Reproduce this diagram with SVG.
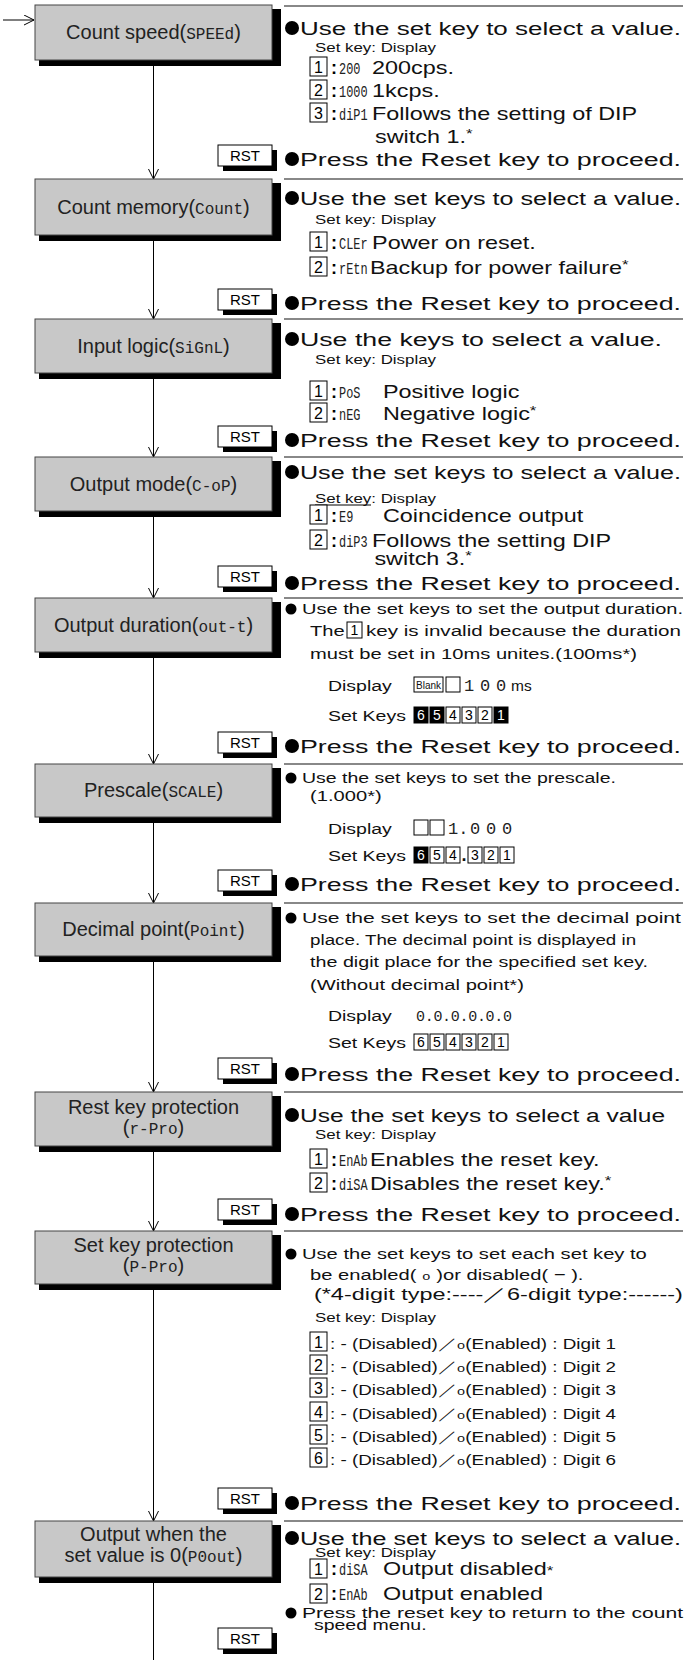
<svg xmlns="http://www.w3.org/2000/svg" width="685" height="1660" viewBox="0 0 685 1660">
<style>
.box{fill:#c8c8c8;stroke:#444;stroke-width:1}
.sh{fill:#000}
.lbl{font-family:'Liberation Sans',Arial,sans-serif;font-size:20px;text-anchor:middle;fill:#222}
.seg{font-family:'Liberation Mono','DejaVu Sans Mono',monospace;font-size:17px;fill:#222}
.sg{font-family:'Liberation Mono','DejaVu Sans Mono',monospace;font-size:16px}
.sep{stroke:#888;stroke-width:2}
.conn line{stroke:#000;stroke-width:1}
.rst{fill:#fff;stroke:#000;stroke-width:1}
.rt{font-family:'Liberation Sans',Arial,sans-serif;font-size:15px;text-anchor:middle}
.t{font-family:'Liberation Sans',Arial,sans-serif;fill:#111}
.f19{font-size:19px}.f18{font-size:18px}.f17{font-size:17px}.f155{font-size:15.5px}.f15{font-size:15px}.f145{font-size:14.5px}.f13{font-size:13px}
.key{fill:#fff;stroke:#000;stroke-width:1}
.kb{fill:#000;stroke:#000}
.kn{font-family:'Liberation Sans',Arial,sans-serif;font-size:16px;text-anchor:middle}
.ks{font-size:14px}
.w{fill:#fff}
.col{font-family:'Liberation Sans',Arial,sans-serif;font-size:18px;font-weight:bold}
.so{font-family:'Liberation Mono',monospace;font-size:11px}
</style>
<defs>
<marker id="ar" markerWidth="12" markerHeight="12" refX="10" refY="5" orient="auto" markerUnits="userSpaceOnUse"><path d="M0,0 L10,5 L0,10" fill="none" stroke="#000" stroke-width="1"/></marker>
</defs>

<g id="connectors" class="conn">
<line x1="3" y1="20" x2="34" y2="20" marker-end="url(#ar)"/>
<line x1="153.5" y1="60" x2="153.5" y2="179" marker-end="url(#ar)"/>
<line x1="153.5" y1="235" x2="153.5" y2="319" marker-end="url(#ar)"/>
<line x1="153.5" y1="373" x2="153.5" y2="457" marker-end="url(#ar)"/>
<line x1="153.5" y1="511" x2="153.5" y2="598" marker-end="url(#ar)"/>
<line x1="153.5" y1="652" x2="153.5" y2="764" marker-end="url(#ar)"/>
<line x1="153.5" y1="817" x2="153.5" y2="903" marker-end="url(#ar)"/>
<line x1="153.5" y1="956" x2="153.5" y2="1092" marker-end="url(#ar)"/>
<line x1="153.5" y1="1146" x2="153.5" y2="1231" marker-end="url(#ar)"/>
<line x1="153.5" y1="1284" x2="153.5" y2="1521" marker-end="url(#ar)"/>
<line x1="153.5" y1="1577" x2="153.5" y2="1660"/>
</g>

<g id="separators">
<line class="sep" x1="284" y1="6" x2="683" y2="6"/>
<line class="sep" x1="284" y1="179" x2="683" y2="179"/>
<line class="sep" x1="284" y1="319" x2="683" y2="319"/>
<line class="sep" x1="284" y1="457" x2="683" y2="457"/>
<line class="sep" x1="284" y1="598" x2="683" y2="598"/>
<line class="sep" x1="284" y1="764" x2="683" y2="764"/>
<line class="sep" x1="284" y1="903" x2="683" y2="903"/>
<line class="sep" x1="284" y1="1092" x2="683" y2="1092"/>
<line class="sep" x1="284" y1="1231" x2="683" y2="1231"/>
<line class="sep" x1="284" y1="1521" x2="683" y2="1521"/>
</g>

<!-- ===== Node 1 ===== -->
<g id="n1">
<rect class="sh" x="39" y="9" width="242" height="57"/>
<rect class="box" x="35" y="5" width="237" height="55"/>
<text class="lbl" x="153.5" y="39">Count speed(<tspan class="sg">SPEEd</tspan>)</text>
</g>
<g id="d1">
<circle cx="292" cy="28" r="7"/>
<rect class="key" x="310" y="57" width="17" height="19"/><text class="kn" x="318.5" y="73">1</text>
<rect class="key" x="310" y="80" width="17" height="19"/><text class="kn" x="318.5" y="96">2</text>
<rect class="key" x="310" y="103" width="17" height="19"/><text class="kn" x="318.5" y="119">3</text>
<text class="col" x="331" y="74">:</text><text class="seg" transform="translate(339 74) scale(0.7 1)">200</text>
<text class="col" x="331" y="97">:</text><text class="seg" transform="translate(339 97) scale(0.7 1)">1000</text>
<text class="col" x="331" y="120">:</text><text class="seg" transform="translate(339 120) scale(0.7 1)">diP1</text>
<g class="t" transform="scale(1.3 1)">
<text class="f19" x="230.77" y="35" textLength="293.1" lengthAdjust="spacingAndGlyphs">Use the set key to select a value.</text>
<text class="f13" x="242.3" y="52">Set key: Display</text>
<text class="f18" x="286.2" y="74">200cps.</text>
<text class="f18" x="286.2" y="97">1kcps.</text>
<text class="f18" x="286.2" y="120">Follows the setting of DIP</text>
<text class="f18" x="288.5" y="143">switch 1.<tspan class="f13" dy="-5">*</tspan></text>
</g>
</g>
<g id="r1">
<rect class="sh" x="223" y="150" width="54" height="21"/>
<rect class="rst" x="218" y="145" width="54" height="21"/>
<text class="rt" x="245" y="161">RST</text>
<circle cx="292" cy="159" r="7"/>
<text class="t f19" transform="scale(1.3 1)" x="230.77" y="166" textLength="293.1" lengthAdjust="spacingAndGlyphs">Press the Reset key to proceed.</text>
</g>

<!-- ===== Node 2 ===== -->
<g id="n2">
<rect class="sh" x="39" y="183" width="242" height="58"/>
<rect class="box" x="35" y="179" width="237" height="56"/>
<text class="lbl" x="153.5" y="214">Count memory(<tspan class="sg">Count</tspan>)</text>
</g>
<g id="d2">
<circle cx="292" cy="198" r="7"/>
<rect class="key" x="310" y="232" width="17" height="19"/><text class="kn" x="318.5" y="248">1</text>
<rect class="key" x="310" y="257" width="17" height="19"/><text class="kn" x="318.5" y="273">2</text>
<text class="col" x="331" y="249">:</text><text class="seg" transform="translate(339 249) scale(0.7 1)">CLEr</text>
<text class="col" x="331" y="274">:</text><text class="seg" transform="translate(339 274) scale(0.7 1)">rEtn</text>
<g class="t" transform="scale(1.3 1)">
<text class="f19" x="230.77" y="205" textLength="293.1" lengthAdjust="spacingAndGlyphs">Use the set keys to select a value.</text>
<text class="f13" x="242.3" y="224">Set key: Display</text>
<text class="f18" x="286.2" y="249">Power on reset.</text>
<text class="f18" x="284.6" y="274">Backup for power failure<tspan class="f13" dy="-5">*</tspan></text>
</g>
</g>
<g id="r2">
<rect class="sh" x="223" y="294" width="54" height="21"/>
<rect class="rst" x="218" y="289" width="54" height="21"/>
<text class="rt" x="245" y="305">RST</text>
<circle cx="292" cy="303" r="7"/>
<text class="t f19" transform="scale(1.3 1)" x="230.77" y="310" textLength="293.1" lengthAdjust="spacingAndGlyphs">Press the Reset key to proceed.</text>
</g>

<!-- ===== Node 3 ===== -->
<g id="n3">
<rect class="sh" x="39" y="323" width="242" height="56"/>
<rect class="box" x="35" y="319" width="237" height="54"/>
<text class="lbl" x="153.5" y="353">Input logic(<tspan class="sg">SiGnL</tspan>)</text>
</g>
<g id="d3">
<circle cx="292" cy="339" r="7"/>
<rect class="key" x="310" y="381" width="17" height="19"/><text class="kn" x="318.5" y="397">1</text>
<rect class="key" x="310" y="403" width="17" height="19"/><text class="kn" x="318.5" y="419">2</text>
<text class="col" x="331" y="398">:</text><text class="seg" transform="translate(339 398) scale(0.7 1)">PoS</text>
<text class="col" x="331" y="420">:</text><text class="seg" transform="translate(339 420) scale(0.7 1)">nEG</text>
<g class="t" transform="scale(1.3 1)">
<text class="f19" x="230.77" y="346" textLength="278.5" lengthAdjust="spacingAndGlyphs">Use the keys to select a value.</text>
<text class="f13" x="242.3" y="364">Set key: Display</text>
<text class="f18" x="294.6" y="398">Positive logic</text>
<text class="f18" x="294.6" y="420">Negative logic<tspan class="f13" dy="-5">*</tspan></text>
</g>
</g>
<g id="r3">
<rect class="sh" x="223" y="431" width="54" height="21"/>
<rect class="rst" x="218" y="426" width="54" height="21"/>
<text class="rt" x="245" y="442">RST</text>
<circle cx="292" cy="440" r="7"/>
<text class="t f19" transform="scale(1.3 1)" x="230.77" y="447" textLength="293.1" lengthAdjust="spacingAndGlyphs">Press the Reset key to proceed.</text>
</g>

<!-- ===== Node 4 ===== -->
<g id="n4">
<rect class="sh" x="39" y="461" width="242" height="56"/>
<rect class="box" x="35" y="457" width="237" height="54"/>
<text class="lbl" x="153.5" y="491">Output mode(<tspan class="sg">C-oP</tspan>)</text>
</g>
<g id="d4">
<circle cx="292" cy="472" r="7"/>
<line x1="315" y1="505" x2="371" y2="505" stroke="#000" stroke-width="1"/>
<rect class="key" x="310" y="505" width="17" height="19"/><text class="kn" x="318.5" y="521">1</text>
<rect class="key" x="310" y="530" width="17" height="19"/><text class="kn" x="318.5" y="546">2</text>
<text class="col" x="331" y="522">:</text><text class="seg" transform="translate(339 522) scale(0.7 1)">E9</text>
<text class="col" x="331" y="547">:</text><text class="seg" transform="translate(339 547) scale(0.7 1)">diP3</text>
<g class="t" transform="scale(1.3 1)">
<text class="f19" x="230.77" y="479" textLength="293.1" lengthAdjust="spacingAndGlyphs">Use the set keys to select a value.</text>
<text class="f13" x="242.3" y="503">Set key: Display</text>
<text class="f18" x="294.6" y="522">Coincidence output</text>
<text class="f18" x="286.2" y="547">Follows the setting DIP</text>
<text class="f18" x="288" y="565">switch 3.<tspan class="f13" dy="-5">*</tspan></text>
</g>
</g>
<g id="r4">
<rect class="sh" x="223" y="571" width="54" height="21"/>
<rect class="rst" x="218" y="566" width="54" height="21"/>
<text class="rt" x="245" y="582">RST</text>
<circle cx="292" cy="583" r="7"/>
<text class="t f19" transform="scale(1.3 1)" x="230.77" y="590" textLength="293.1" lengthAdjust="spacingAndGlyphs">Press the Reset key to proceed.</text>
</g>

<!-- ===== Node 5 ===== -->
<g id="n5">
<rect class="sh" x="39" y="602" width="242" height="56"/>
<rect class="box" x="35" y="598" width="237" height="54"/>
<text class="lbl" x="153.5" y="632">Output duration(<tspan class="sg">out-t</tspan>)</text>
</g>
<g id="d5">
<circle cx="291" cy="609" r="5.5"/>
<rect class="key" x="347" y="622" width="15" height="16"/><text class="kn ks" x="354.5" y="635">1</text>
<rect class="key" x="414" y="677" width="29" height="15"/><text class="t" x="428.5" y="689" style="font-size:10px" text-anchor="middle">Blank</text>
<rect class="key" x="446" y="677" width="14" height="15"/>
<text class="seg" x="469" y="691" text-anchor="middle">1</text><text class="seg" x="485" y="691" text-anchor="middle">0</text><text class="seg" x="501" y="691" text-anchor="middle">0</text>
<text class="t f155" x="511" y="691">ms</text>
<rect class="kb" x="414" y="707" width="14" height="16"/><text class="kn ks w" x="421" y="720">6</text>
<rect class="kb" x="430" y="707" width="14" height="16"/><text class="kn ks w" x="437" y="720">5</text>
<rect class="key" x="446" y="707" width="14" height="16"/><text class="kn ks" x="453" y="720">4</text>
<rect class="key" x="462" y="707" width="14" height="16"/><text class="kn ks" x="469" y="720">3</text>
<rect class="key" x="478" y="707" width="14" height="16"/><text class="kn ks" x="485" y="720">2</text>
<rect class="kb" x="494" y="707" width="14" height="16"/><text class="kn ks w" x="501" y="720">1</text>
<g class="t" transform="scale(1.3 1)">
<text class="f15" x="232.3" y="614" textLength="293.1" lengthAdjust="spacingAndGlyphs">Use the set keys to set the output duration.</text>
<text class="f155" x="238.5" y="636">The</text>
<text class="f155" x="281.5" y="636" textLength="242.3" lengthAdjust="spacingAndGlyphs">key is invalid because the duration</text>
<text class="f155" x="238.5" y="659">must be set in 10ms unites.(100ms*)</text>
<text class="f15" x="252.3" y="691">Display</text>
<text class="f15" x="252.3" y="721">Set Keys</text>
</g>
</g>
<g id="r5">
<rect class="sh" x="223" y="737" width="54" height="21"/>
<rect class="rst" x="218" y="732" width="54" height="21"/>
<text class="rt" x="245" y="748">RST</text>
<circle cx="292" cy="746" r="7"/>
<text class="t f19" transform="scale(1.3 1)" x="230.77" y="753" textLength="293.1" lengthAdjust="spacingAndGlyphs">Press the Reset key to proceed.</text>
</g>

<!-- ===== Node 6 ===== -->
<g id="n6">
<rect class="sh" x="39" y="768" width="242" height="55"/>
<rect class="box" x="35" y="764" width="237" height="53"/>
<text class="lbl" x="153.5" y="797">Prescale(<tspan class="sg">SCALE</tspan>)</text>
</g>
<g id="d6">
<circle cx="291" cy="778" r="5.5"/>
<rect class="key" x="414" y="820" width="14" height="15"/>
<rect class="key" x="430" y="820" width="14" height="15"/>
<text class="seg" x="448" y="834">1.</text><text class="seg" x="475" y="834" text-anchor="middle">0</text><text class="seg" x="491" y="834" text-anchor="middle">0</text><text class="seg" x="507" y="834" text-anchor="middle">0</text>
<rect class="kb" x="414" y="847" width="14" height="16"/><text class="kn ks w" x="421" y="860">6</text>
<rect class="key" x="430" y="847" width="14" height="16"/><text class="kn ks" x="437" y="860">5</text>
<rect class="key" x="446" y="847" width="14" height="16"/><text class="kn ks" x="453" y="860">4</text>
<text class="t" x="461.5" y="861" style="font-size:18px;font-weight:bold">.</text>
<rect class="key" x="468" y="847" width="14" height="16"/><text class="kn ks" x="475" y="860">3</text>
<rect class="key" x="484" y="847" width="14" height="16"/><text class="kn ks" x="491" y="860">2</text>
<rect class="key" x="500" y="847" width="14" height="16"/><text class="kn ks" x="507" y="860">1</text>
<g class="t" transform="scale(1.3 1)">
<text class="f15" x="232.3" y="783">Use the set keys to set the prescale.</text>
<text class="f155" x="238.5" y="801">(1.000*)</text>
<text class="f15" x="252.3" y="834">Display</text>
<text class="f15" x="252.3" y="861">Set Keys</text>
</g>
</g>
<g id="r6">
<rect class="sh" x="223" y="875" width="54" height="21"/>
<rect class="rst" x="218" y="870" width="54" height="21"/>
<text class="rt" x="245" y="886">RST</text>
<circle cx="292" cy="884" r="7"/>
<text class="t f19" transform="scale(1.3 1)" x="230.77" y="891" textLength="293.1" lengthAdjust="spacingAndGlyphs">Press the Reset key to proceed.</text>
</g>

<!-- ===== Node 7 ===== -->
<g id="n7">
<rect class="sh" x="39" y="907" width="242" height="55"/>
<rect class="box" x="35" y="903" width="237" height="53"/>
<text class="lbl" x="153.5" y="936">Decimal point(<tspan class="sg">Point</tspan>)</text>
</g>
<g id="d7">
<circle cx="291" cy="918" r="5.5"/>
<text class="seg" x="416" y="1021" style="font-size:15px" textLength="96" lengthAdjust="spacing">0.0.0.0.0.0</text>
<rect class="key" x="414" y="1034" width="14" height="16"/><text class="kn ks" x="421" y="1047">6</text>
<rect class="key" x="430" y="1034" width="14" height="16"/><text class="kn ks" x="437" y="1047">5</text>
<rect class="key" x="446" y="1034" width="14" height="16"/><text class="kn ks" x="453" y="1047">4</text>
<rect class="key" x="462" y="1034" width="14" height="16"/><text class="kn ks" x="469" y="1047">3</text>
<rect class="key" x="478" y="1034" width="14" height="16"/><text class="kn ks" x="485" y="1047">2</text>
<rect class="key" x="494" y="1034" width="14" height="16"/><text class="kn ks" x="501" y="1047">1</text>
<g class="t" transform="scale(1.3 1)">
<text class="f155" x="232.3" y="923" textLength="291.5" lengthAdjust="spacingAndGlyphs">Use the set keys to set the decimal point</text>
<text class="f155" x="238.5" y="945" textLength="250.8" lengthAdjust="spacingAndGlyphs">place. The decimal point is displayed in</text>
<text class="f155" x="238.5" y="967" textLength="260" lengthAdjust="spacingAndGlyphs">the digit place for the specified set key.</text>
<text class="f155" x="238.5" y="990">(Without decimal point*)</text>
<text class="f15" x="252.3" y="1021">Display</text>
<text class="f15" x="252.3" y="1048">Set Keys</text>
</g>
</g>
<g id="r7">
<rect class="sh" x="223" y="1063" width="54" height="21"/>
<rect class="rst" x="218" y="1058" width="54" height="21"/>
<text class="rt" x="245" y="1074">RST</text>
<circle cx="292" cy="1074" r="7"/>
<text class="t f19" transform="scale(1.3 1)" x="230.77" y="1081" textLength="293.1" lengthAdjust="spacingAndGlyphs">Press the Reset key to proceed.</text>
</g>

<!-- ===== Node 8 ===== -->
<g id="n8">
<rect class="sh" x="39" y="1096" width="242" height="56"/>
<rect class="box" x="35" y="1092" width="237" height="54"/>
<text class="lbl" x="153.5" y="1114">Rest key protection</text>
<text class="lbl" x="153.5" y="1134">(<tspan class="sg">r-Pro</tspan>)</text>
</g>
<g id="d8">
<circle cx="292" cy="1115" r="7"/>
<rect class="key" x="310" y="1149" width="17" height="19"/><text class="kn" x="318.5" y="1165">1</text>
<rect class="key" x="310" y="1173" width="17" height="19"/><text class="kn" x="318.5" y="1189">2</text>
<text class="col" x="331" y="1166">:</text><text class="seg" transform="translate(339 1166) scale(0.7 1)">EnAb</text>
<text class="col" x="331" y="1190">:</text><text class="seg" transform="translate(339 1190) scale(0.7 1)">diSA</text>
<g class="t" transform="scale(1.3 1)">
<text class="f19" x="230.77" y="1122" textLength="280.8" lengthAdjust="spacingAndGlyphs">Use the set keys to select a value</text>
<text class="f13" x="242.3" y="1139">Set key: Display</text>
<text class="f18" x="284.6" y="1166">Enables the reset key.</text>
<text class="f18" x="284.6" y="1190">Disables the reset key.<tspan class="f13" dy="-5">*</tspan></text>
</g>
</g>
<g id="r8">
<rect class="sh" x="223" y="1204" width="54" height="21"/>
<rect class="rst" x="218" y="1199" width="54" height="21"/>
<text class="rt" x="245" y="1215">RST</text>
<circle cx="292" cy="1214" r="7"/>
<text class="t f19" transform="scale(1.3 1)" x="230.77" y="1221" textLength="293.1" lengthAdjust="spacingAndGlyphs">Press the Reset key to proceed.</text>
</g>

<!-- ===== Node 9 ===== -->
<g id="n9">
<rect class="sh" x="39" y="1235" width="242" height="55"/>
<rect class="box" x="35" y="1231" width="237" height="53"/>
<text class="lbl" x="153.5" y="1252">Set key protection</text>
<text class="lbl" x="153.5" y="1272">(<tspan class="sg">P-Pro</tspan>)</text>
</g>
<g id="d9">
<circle cx="291" cy="1254" r="5.5"/>
<rect class="key" x="310" y="1332" width="17" height="19"/><text class="kn" x="318.5" y="1348">1</text>
<rect class="key" x="310" y="1355" width="17" height="19"/><text class="kn" x="318.5" y="1371">2</text>
<rect class="key" x="310" y="1378" width="17" height="19"/><text class="kn" x="318.5" y="1394">3</text>
<rect class="key" x="310" y="1402" width="17" height="19"/><text class="kn" x="318.5" y="1418">4</text>
<rect class="key" x="310" y="1425" width="17" height="19"/><text class="kn" x="318.5" y="1441">5</text>
<rect class="key" x="310" y="1448" width="17" height="19"/><text class="kn" x="318.5" y="1464">6</text>
<g class="t" transform="scale(1.3 1)">
<text class="f155" x="232.3" y="1259">Use the set keys to set each set key to</text>
<text class="f155" x="238.5" y="1280">be enabled( <tspan class="so">o</tspan> )or disabled( − ).</text>
<text class="f17" x="241.5" y="1300" textLength="283.8" lengthAdjust="spacingAndGlyphs">(*4-digit type:----／6-digit type:------)</text>
<text class="f13" x="242.3" y="1322">Set key: Display</text>
<text class="f145" x="253.8" y="1349">: - (Disabled)／<tspan class="so">o</tspan>(Enabled) : Digit 1</text>
<text class="f145" x="253.8" y="1372">: - (Disabled)／<tspan class="so">o</tspan>(Enabled) : Digit 2</text>
<text class="f145" x="253.8" y="1395">: - (Disabled)／<tspan class="so">o</tspan>(Enabled) : Digit 3</text>
<text class="f145" x="253.8" y="1419">: - (Disabled)／<tspan class="so">o</tspan>(Enabled) : Digit 4</text>
<text class="f145" x="253.8" y="1442">: - (Disabled)／<tspan class="so">o</tspan>(Enabled) : Digit 5</text>
<text class="f145" x="253.8" y="1465">: - (Disabled)／<tspan class="so">o</tspan>(Enabled) : Digit 6</text>
</g>
</g>
<g id="r9">
<rect class="sh" x="223" y="1493" width="54" height="21"/>
<rect class="rst" x="218" y="1488" width="54" height="21"/>
<text class="rt" x="245" y="1504">RST</text>
<circle cx="292" cy="1503" r="7"/>
<text class="t f19" transform="scale(1.3 1)" x="230.77" y="1510" textLength="293.1" lengthAdjust="spacingAndGlyphs">Press the Reset key to proceed.</text>
</g>

<!-- ===== Node 10 ===== -->
<g id="n10">
<rect class="sh" x="39" y="1525" width="242" height="58"/>
<rect class="box" x="35" y="1521" width="237" height="56"/>
<text class="lbl" x="153.5" y="1541">Output when the</text>
<text class="lbl" x="153.5" y="1562">set value is 0(<tspan class="sg">P0out</tspan>)</text>
</g>
<g id="d10">
<circle cx="292" cy="1538" r="7"/>
<rect class="key" x="310" y="1559" width="17" height="19"/><text class="kn" x="318.5" y="1575">1</text>
<rect class="key" x="310" y="1584" width="17" height="19"/><text class="kn" x="318.5" y="1600">2</text>
<text class="col" x="331" y="1575">:</text><text class="seg" transform="translate(339 1575) scale(0.7 1)">diSA</text>
<text class="col" x="331" y="1600">:</text><text class="seg" transform="translate(339 1600) scale(0.7 1)">EnAb</text>
<circle cx="291" cy="1613" r="5.5"/>
<g class="t" transform="scale(1.3 1)">
<text class="f19" x="230.77" y="1545" textLength="293.1" lengthAdjust="spacingAndGlyphs">Use the set keys to select a value.</text>
<text class="f13" x="242.3" y="1557">Set key: Display</text>
<text class="f18" x="294.6" y="1575">Output disabled<tspan class="f13">*</tspan></text>
<text class="f18" x="294.6" y="1600">Output enabled</text>
<text class="f15" x="232.3" y="1618" textLength="293.1" lengthAdjust="spacingAndGlyphs">Press the reset key to return to the count</text>
<text class="f15" x="241.5" y="1630">speed menu.</text>
</g>
</g>
<g id="r10">
<rect class="sh" x="223" y="1633" width="54" height="21"/>
<rect class="rst" x="218" y="1628" width="54" height="21"/>
<text class="rt" x="245" y="1644">RST</text>
</g>
</svg>
